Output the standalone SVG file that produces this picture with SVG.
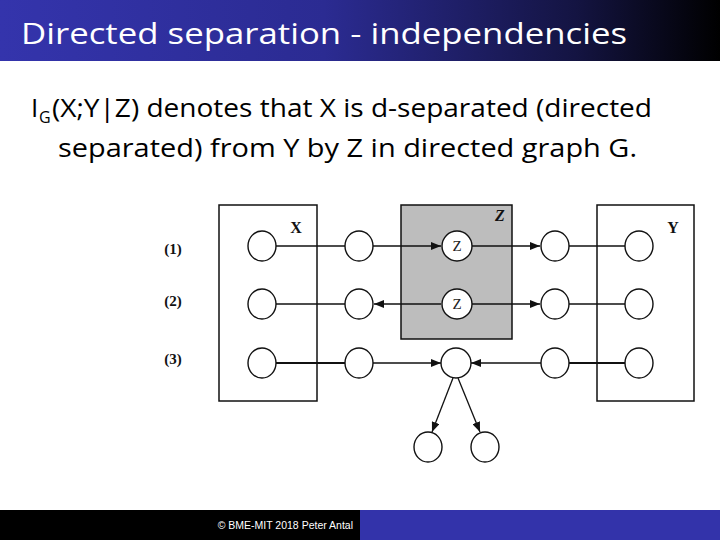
<svg xmlns="http://www.w3.org/2000/svg" width="720" height="540" viewBox="0 0 720 540">
<defs>
<linearGradient id="tb" x1="0" y1="0" x2="1" y2="0">
<stop offset="0" stop-color="#3434ac"/>
<stop offset="0.45" stop-color="#2b2b92"/>
<stop offset="0.8" stop-color="#141442"/>
<stop offset="1" stop-color="#000000"/>
</linearGradient>
<marker id="ah" viewBox="0 0 10 8" refX="10" refY="4" markerWidth="10" markerHeight="8" markerUnits="userSpaceOnUse" orient="auto">
<path d="M0,0 L10,4 L0,8 Z" fill="#111"/>
</marker>
<style>
.nd{fill:#fff;stroke:#111;stroke-width:1.4}
.ln{stroke:#111;stroke-width:1.3;fill:none}
.th{stroke:#111;stroke-width:2.2;fill:none}
.bx{fill:none;stroke:#111;stroke-width:1.5}
.lbl{font-family:"Liberation Serif",serif;font-weight:bold;font-size:16px;fill:#111}
.rl{font-family:"Liberation Serif",serif;font-weight:bold;font-size:15px;fill:#111;text-anchor:middle}
.zt{font-family:"Liberation Serif",serif;font-size:15px;fill:#222;text-anchor:middle}
.body{font-family:"Open Sans","Noto Sans",sans-serif;font-size:26px;fill:#000}
</style>
</defs>
<rect x="0" y="0" width="720" height="61" fill="url(#tb)"/>
<text x="21" y="44" font-family="'Open Sans','Noto Sans',sans-serif" font-size="30" fill="#fff" textLength="606" lengthAdjust="spacingAndGlyphs">Directed separation - independencies</text>

<text class="body" x="31" y="117">I</text>
<text class="body" x="39" y="123" style="font-size:16px">G</text>
<text class="body" x="52" y="117" textLength="600" lengthAdjust="spacingAndGlyphs">(X;Y|Z) denotes that X is d-separated (directed</text>
<text class="body" x="58" y="157" textLength="579" lengthAdjust="spacingAndGlyphs">separated) from Y by Z in directed graph G.</text>

<g id="boxes">
<rect x="219" y="205" width="98" height="196" class="bx"/>
<rect x="401" y="205" width="111" height="134" fill="#bdbdbd" stroke="#111" stroke-width="1.5"/>
<rect x="597" y="205" width="97" height="196" class="bx"/>
<text class="lbl" x="296" y="233" text-anchor="middle">X</text>
<text class="lbl" x="500" y="221" text-anchor="middle" font-style="italic">Z</text>
<text class="lbl" x="673" y="233" text-anchor="middle">Y</text>
</g>
<g id="row-labels">
<text class="rl" x="173" y="254">(1)</text>
<text class="rl" x="173" y="306">(2)</text>
<text class="rl" x="173" y="364">(3)</text>
</g>

<g id="connectors">
<line class="ln" x1="276" y1="246" x2="345" y2="246"/>
<line class="ln" x1="373" y1="246" x2="441" y2="246" marker-end="url(#ah)"/>
<line class="ln" x1="472" y1="246" x2="540" y2="246" marker-end="url(#ah)"/>
<line class="ln" x1="569" y1="246" x2="625" y2="246"/>
<line class="ln" x1="276" y1="304" x2="345" y2="304"/>
<line class="ln" x1="441" y1="304" x2="374" y2="304" marker-end="url(#ah)"/>
<line class="ln" x1="472" y1="304" x2="540" y2="304" marker-end="url(#ah)"/>
<line class="ln" x1="569" y1="304" x2="625" y2="304"/>
<line class="th" x1="276" y1="363" x2="345" y2="363"/>
<line class="ln" x1="373" y1="363" x2="441" y2="363" marker-end="url(#ah)"/>
<line class="ln" x1="541" y1="363" x2="471" y2="363" marker-end="url(#ah)"/>
<line class="th" x1="569" y1="363" x2="625" y2="363"/>
<line class="ln" x1="453" y1="378" x2="432" y2="432" marker-end="url(#ah)"/>
<line class="ln" x1="458" y1="378" x2="480" y2="432" marker-end="url(#ah)"/>
</g>

<g id="n-x1"><ellipse class="nd" cx="262" cy="246" rx="14" ry="15"/></g>
<g id="n-a1"><ellipse class="nd" cx="359" cy="246" rx="14" ry="15"/></g>
<g id="n-z1"><circle class="nd" cx="457" cy="246" r="15"/><text class="zt" x="457" y="251">Z</text></g>
<g id="n-b1"><ellipse class="nd" cx="555" cy="246" rx="14" ry="15"/></g>
<g id="n-y1"><ellipse class="nd" cx="639" cy="246" rx="14" ry="15"/></g>

<g id="n-x2"><ellipse class="nd" cx="262" cy="304" rx="14" ry="15"/></g>
<g id="n-a2"><ellipse class="nd" cx="359" cy="304" rx="14" ry="15"/></g>
<g id="n-z2"><circle class="nd" cx="457" cy="304" r="15"/><text class="zt" x="457" y="309">Z</text></g>
<g id="n-b2"><ellipse class="nd" cx="555" cy="304" rx="14" ry="15"/></g>
<g id="n-y2"><ellipse class="nd" cx="639" cy="304" rx="14" ry="15"/></g>

<g id="n-x3"><ellipse class="nd" cx="262" cy="363" rx="14" ry="15"/></g>
<g id="n-a3"><ellipse class="nd" cx="359" cy="363" rx="14" ry="15"/></g>
<g id="n-c3"><circle class="nd" cx="456" cy="363" r="15"/></g>
<g id="n-b3"><ellipse class="nd" cx="555" cy="363" rx="14" ry="15"/></g>
<g id="n-y3"><ellipse class="nd" cx="639" cy="363" rx="14" ry="15"/></g>
<g id="n-d1"><ellipse class="nd" cx="428" cy="447" rx="14" ry="15"/></g>
<g id="n-d2"><ellipse class="nd" cx="485" cy="447" rx="14" ry="15"/></g>

<rect x="0" y="510" width="360" height="30" fill="#000"/>
<rect x="360" y="510" width="360" height="30" fill="#3333aa"/>
<text x="353" y="529" text-anchor="end" font-family="'Liberation Sans',sans-serif" font-size="10.5" fill="#fff">© BME-MIT 2018 Peter Antal</text>
</svg>
